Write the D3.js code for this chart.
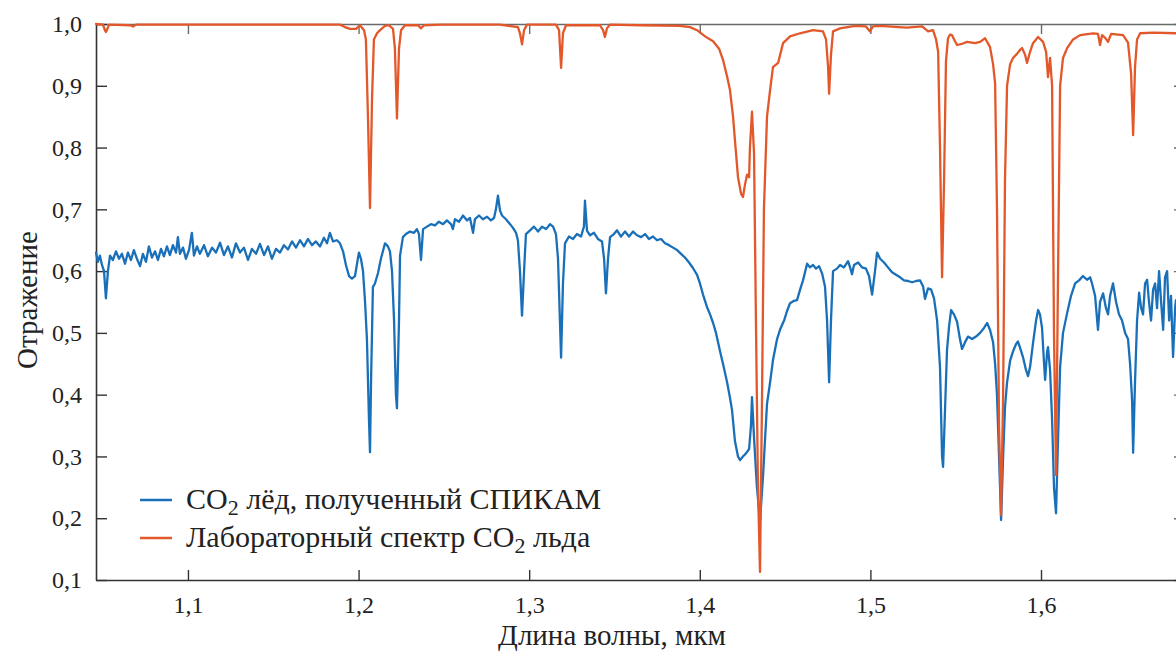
<!DOCTYPE html>
<html>
<head>
<meta charset="utf-8">
<script src="https://cdn.jsdelivr.net/npm/d3@7"></script>
<style>
  html, body { margin: 0; padding: 0; background: #fff; overflow: hidden; }
  svg { display: block; }
  svg text { font-family: 'Liberation Serif', serif !important; fill: #222; }
</style>
</head>
<body>
<svg id="chart" width="1176" height="651"></svg>
<script>
// spectrum observed by SPICAM (blue)
const spicamWl = [
  1.0461, 1.0472, 1.0484, 1.0496, 1.0508, 1.0519, 1.0531, 1.0543, 1.0560, 1.0578,
  1.0596, 1.0613, 1.0631, 1.0648, 1.0666, 1.0683, 1.0701, 1.0719, 1.0736, 1.0754,
  1.0771, 1.0789, 1.0807, 1.0824, 1.0842, 1.0859, 1.0877, 1.0894, 1.0912, 1.0930,
  1.0941, 1.0953, 1.0971, 1.0988, 1.1006, 1.1023, 1.1035, 1.1053, 1.1070, 1.1094,
  1.1117, 1.1141, 1.1164, 1.1188, 1.1211, 1.1234, 1.1258, 1.1281, 1.1305, 1.1328,
  1.1352, 1.1375, 1.1399, 1.1422, 1.1446, 1.1469, 1.1492, 1.1516, 1.1539, 1.1563,
  1.1586, 1.1610, 1.1633, 1.1657, 1.1680, 1.1703, 1.1727, 1.1750, 1.1774, 1.1797,
  1.1815, 1.1832, 1.1850, 1.1873, 1.1891, 1.1909, 1.1926, 1.1944, 1.1961, 1.1979,
  1.1991, 1.2002, 1.2014, 1.2026, 1.2038, 1.2049, 1.2061, 1.2067, 1.2073, 1.2084,
  1.2096, 1.2114, 1.2131, 1.2155, 1.2172, 1.2184, 1.2196, 1.2208, 1.2219, 1.2225,
  1.2237, 1.2243, 1.2260, 1.2278, 1.2301, 1.2325, 1.2342, 1.2354, 1.2366, 1.2378,
  1.2401, 1.2424, 1.2448, 1.2471, 1.2495, 1.2518, 1.2542, 1.2553, 1.2565, 1.2589,
  1.2612, 1.2636, 1.2653, 1.2671, 1.2682, 1.2706, 1.2729, 1.2753, 1.2776, 1.2794,
  1.2805, 1.2817, 1.2829, 1.2841, 1.2864, 1.2888, 1.2905, 1.2923, 1.2934, 1.2946,
  1.2958, 1.2970, 1.2981, 1.3005, 1.3028, 1.3052, 1.3075, 1.3099, 1.3122, 1.3140,
  1.3157, 1.3169, 1.3187, 1.3198, 1.3210, 1.3233, 1.3257, 1.3280, 1.3304, 1.3321,
  1.3327, 1.3339, 1.3357, 1.3380, 1.3403, 1.3427, 1.3439, 1.3450, 1.3462, 1.3474,
  1.3497, 1.3515, 1.3538, 1.3562, 1.3585, 1.3609, 1.3632, 1.3656, 1.3679, 1.3702,
  1.3726, 1.3749, 1.3773, 1.3796, 1.3820, 1.3843, 1.3867, 1.3890, 1.3913, 1.3937,
  1.3960, 1.3984, 1.4001, 1.4019, 1.4042, 1.4060, 1.4078, 1.4095, 1.4119, 1.4136,
  1.4160, 1.4177, 1.4189, 1.4206, 1.4224, 1.4236, 1.4253, 1.4271, 1.4289, 1.4300,
  1.4306, 1.4318, 1.4335, 1.4353, 1.4371, 1.4394, 1.4412, 1.4429, 1.4453, 1.4470,
  1.4494, 1.4511, 1.4529, 1.4552, 1.4570, 1.4588, 1.4605, 1.4629, 1.4646, 1.4664,
  1.4681, 1.4699, 1.4717, 1.4734, 1.4746, 1.4758, 1.4769, 1.4781, 1.4804, 1.4822,
  1.4845, 1.4869, 1.4881, 1.4892, 1.4904, 1.4928, 1.4951, 1.4974, 1.4992, 1.5010,
  1.5027, 1.5039, 1.5057, 1.5080, 1.5103, 1.5127, 1.5150, 1.5174, 1.5197, 1.5221,
  1.5244, 1.5268, 1.5291, 1.5309, 1.5320, 1.5338, 1.5356, 1.5373, 1.5391, 1.5408,
  1.5420, 1.5426, 1.5438, 1.5449, 1.5461, 1.5473, 1.5490, 1.5508, 1.5525, 1.5537,
  1.5555, 1.5572, 1.5596, 1.5619, 1.5643, 1.5666, 1.5684, 1.5701, 1.5719, 1.5731,
  1.5742, 1.5754, 1.5766, 1.5778, 1.5789, 1.5801, 1.5819, 1.5836, 1.5854, 1.5865,
  1.5877, 1.5895, 1.5912, 1.5924, 1.5936, 1.5953, 1.5971, 1.5983, 1.5994, 1.6006,
  1.6018, 1.6024, 1.6036, 1.6041, 1.6053, 1.6065, 1.6076, 1.6088, 1.6100, 1.6112,
  1.6129, 1.6153, 1.6176, 1.6200, 1.6223, 1.6246, 1.6270, 1.6288, 1.6299, 1.6317,
  1.6334, 1.6346, 1.6364, 1.6381, 1.6393, 1.6405, 1.6422, 1.6440, 1.6457, 1.6475,
  1.6493, 1.6510, 1.6522, 1.6534, 1.6540, 1.6551, 1.6563, 1.6575, 1.6587, 1.6598,
  1.6610, 1.6622, 1.6633, 1.6645, 1.6657, 1.6669, 1.6680, 1.6692, 1.6704, 1.6716,
  1.6727, 1.6739, 1.6751, 1.6762, 1.6774, 1.6786, 1.6791
];
const spicamRefl = [
  0.630, 0.615, 0.625, 0.610, 0.600, 0.556, 0.600, 0.625, 0.618, 0.632,
  0.620, 0.628, 0.612, 0.630, 0.618, 0.634, 0.620, 0.608, 0.628, 0.615,
  0.640, 0.622, 0.632, 0.618, 0.636, 0.624, 0.640, 0.626, 0.642, 0.630,
  0.655, 0.628, 0.638, 0.620, 0.634, 0.662, 0.625, 0.640, 0.628, 0.642,
  0.624, 0.638, 0.630, 0.646, 0.626, 0.640, 0.622, 0.645, 0.630, 0.638,
  0.618, 0.636, 0.628, 0.644, 0.626, 0.640, 0.620, 0.636, 0.630, 0.642,
  0.635, 0.648, 0.638, 0.650, 0.640, 0.652, 0.642, 0.648, 0.640, 0.654,
  0.645, 0.662, 0.648, 0.650, 0.645, 0.632, 0.610, 0.592, 0.588, 0.592,
  0.612, 0.630, 0.620, 0.600, 0.550, 0.490, 0.360, 0.307, 0.420, 0.574,
  0.580, 0.597, 0.620, 0.645, 0.640, 0.632, 0.600, 0.520, 0.400, 0.378,
  0.520, 0.625, 0.655, 0.660, 0.664, 0.662, 0.668, 0.660, 0.618, 0.668,
  0.672, 0.676, 0.674, 0.680, 0.676, 0.682, 0.676, 0.668, 0.684, 0.680,
  0.690, 0.682, 0.686, 0.662, 0.684, 0.690, 0.684, 0.688, 0.682, 0.686,
  0.700, 0.722, 0.698, 0.690, 0.684, 0.676, 0.670, 0.662, 0.650, 0.600,
  0.528, 0.600, 0.660, 0.666, 0.672, 0.664, 0.672, 0.668, 0.676, 0.672,
  0.660, 0.620, 0.460, 0.580, 0.645, 0.656, 0.652, 0.660, 0.656, 0.672,
  0.714, 0.665, 0.658, 0.662, 0.652, 0.648, 0.620, 0.564, 0.620, 0.655,
  0.660, 0.666, 0.656, 0.664, 0.656, 0.664, 0.658, 0.655, 0.660, 0.652,
  0.656, 0.650, 0.652, 0.645, 0.642, 0.638, 0.634, 0.628, 0.622, 0.614,
  0.605, 0.594, 0.580, 0.562, 0.542, 0.530, 0.516, 0.500, 0.470, 0.450,
  0.420, 0.395, 0.375, 0.325, 0.300, 0.294, 0.300, 0.305, 0.312, 0.350,
  0.396, 0.330, 0.250, 0.195, 0.270, 0.385, 0.420, 0.456, 0.490, 0.505,
  0.520, 0.535, 0.548, 0.552, 0.553, 0.570, 0.585, 0.612, 0.606, 0.610,
  0.604, 0.608, 0.596, 0.575, 0.520, 0.420, 0.520, 0.600, 0.604, 0.610,
  0.606, 0.616, 0.606, 0.595, 0.610, 0.614, 0.606, 0.604, 0.592, 0.562,
  0.600, 0.630, 0.620, 0.614, 0.606, 0.598, 0.594, 0.590, 0.585, 0.584,
  0.582, 0.584, 0.585, 0.575, 0.555, 0.572, 0.570, 0.556, 0.520, 0.445,
  0.300, 0.283, 0.380, 0.472, 0.510, 0.537, 0.530, 0.518, 0.490, 0.474,
  0.485, 0.494, 0.490, 0.494, 0.500, 0.508, 0.516, 0.505, 0.485, 0.450,
  0.400, 0.300, 0.197, 0.300, 0.380, 0.420, 0.455, 0.470, 0.482, 0.486,
  0.476, 0.460, 0.440, 0.430, 0.445, 0.483, 0.520, 0.537, 0.530, 0.508,
  0.450, 0.424, 0.470, 0.477, 0.440, 0.360, 0.250, 0.208, 0.330, 0.445,
  0.500, 0.532, 0.560, 0.580, 0.585, 0.592, 0.586, 0.590, 0.580, 0.560,
  0.505, 0.550, 0.564, 0.540, 0.530, 0.560, 0.580, 0.550, 0.530, 0.520,
  0.500, 0.490, 0.450, 0.390, 0.306, 0.420, 0.520, 0.565, 0.540, 0.530,
  0.580, 0.586, 0.550, 0.520, 0.570, 0.580, 0.540, 0.600, 0.550, 0.505,
  0.590, 0.600, 0.520, 0.560, 0.461, 0.540, 0.553
];

// laboratory CO2 ice spectrum (red)
const labWl = [
  1.0461, 1.0502, 1.0513, 1.0519, 1.0525, 1.0537, 1.0660, 1.0678, 1.0695, 1.1070,
  1.1657, 1.1891, 1.1920, 1.1950, 1.1985, 1.2008, 1.2032, 1.2043, 1.2055, 1.2067,
  1.2079, 1.2090, 1.2108, 1.2126, 1.2155, 1.2178, 1.2202, 1.2213, 1.2225, 1.2237,
  1.2249, 1.2272, 1.2348, 1.2366, 1.2383, 1.2477, 1.2829, 1.2934, 1.2946, 1.2958,
  1.2970, 1.2987, 1.3157, 1.3175, 1.3187, 1.3198, 1.3216, 1.3415, 1.3433, 1.3444,
  1.3456, 1.3474, 1.3650, 1.3884, 1.3943, 1.3984, 1.4031, 1.4078, 1.4113, 1.4136,
  1.4160, 1.4177, 1.4195, 1.4206, 1.4224, 1.4242, 1.4253, 1.4265, 1.4277, 1.4289,
  1.4294, 1.4306, 1.4318, 1.4330, 1.4341, 1.4353, 1.4365, 1.4376, 1.4394, 1.4412,
  1.4429, 1.4459, 1.4488, 1.4529, 1.4588, 1.4664, 1.4722, 1.4740, 1.4752, 1.4758,
  1.4769, 1.4781, 1.4822, 1.4910, 1.4974, 1.4998, 1.5015, 1.5057, 1.5215, 1.5303,
  1.5338, 1.5367, 1.5385, 1.5397, 1.5408, 1.5420, 1.5432, 1.5443, 1.5455, 1.5467,
  1.5478, 1.5496, 1.5508, 1.5537, 1.5567, 1.5613, 1.5643, 1.5672, 1.5701, 1.5719,
  1.5731, 1.5742, 1.5754, 1.5766, 1.5778, 1.5789, 1.5801, 1.5819, 1.5836, 1.5860,
  1.5877, 1.5889, 1.5907, 1.5918, 1.5936, 1.5953, 1.5983, 1.6012, 1.6030, 1.6041,
  1.6053, 1.6065, 1.6076, 1.6088, 1.6100, 1.6112, 1.6129, 1.6153, 1.6188, 1.6229,
  1.6305, 1.6334, 1.6346, 1.6358, 1.6375, 1.6393, 1.6411, 1.6481, 1.6510, 1.6528,
  1.6540, 1.6551, 1.6563, 1.6581, 1.6657, 1.6791
];
const labRefl = [
  1.000, 0.999, 0.990, 0.987, 0.990, 0.999, 0.998, 0.996, 0.999, 0.999,
  0.999, 0.999, 0.995, 0.992, 0.992, 0.998, 0.990, 0.975, 0.850, 0.702,
  0.880, 0.975, 0.985, 0.990, 0.997, 0.998, 0.992, 0.960, 0.847, 0.960,
  0.990, 0.998, 0.998, 0.993, 0.998, 0.999, 0.999, 0.995, 0.985, 0.967,
  0.990, 0.999, 0.999, 0.990, 0.929, 0.985, 0.998, 0.998, 0.990, 0.979,
  0.993, 0.999, 0.998, 0.997, 0.995, 0.990, 0.980, 0.972, 0.960, 0.942,
  0.915, 0.893, 0.850, 0.812, 0.752, 0.725, 0.720, 0.740, 0.756, 0.752,
  0.800, 0.858, 0.790, 0.500, 0.250, 0.113, 0.400, 0.700, 0.850, 0.893,
  0.930, 0.937, 0.969, 0.980, 0.985, 0.990, 0.988, 0.975, 0.930, 0.887,
  0.950, 0.988, 0.993, 0.997, 0.996, 0.988, 0.996, 0.997, 0.994, 0.996,
  0.988, 0.990, 0.975, 0.955, 0.800, 0.590, 0.750, 0.940, 0.977, 0.983,
  0.982, 0.972, 0.966, 0.968, 0.971, 0.969, 0.971, 0.977, 0.963, 0.935,
  0.904, 0.700, 0.350, 0.205, 0.400, 0.750, 0.900, 0.935, 0.945, 0.952,
  0.958, 0.961, 0.950, 0.937, 0.955, 0.969, 0.979, 0.971, 0.955, 0.914,
  0.945, 0.900, 0.500, 0.270, 0.600, 0.900, 0.945, 0.961, 0.975, 0.982,
  0.985, 0.984, 0.966, 0.982, 0.978, 0.971, 0.984, 0.982, 0.970, 0.920,
  0.820, 0.930, 0.975, 0.985, 0.986, 0.985
];

const xTicks = [1.1, 1.2, 1.3, 1.4, 1.5, 1.6];
const yTicks = [0.1, 0.2, 0.3, 0.4, 0.5, 0.6, 0.7, 0.8, 0.9, 1.0];
const legendLabels = [
  { pre: 'CO', sub: '2', post: ' лёд, полученный СПИКАМ' },
  { pre: 'Лабораторный спектр CO', sub: '2', post: ' льда' }
];
const seriesColors = ['#1a70b8', '#e2582a'];
const serif = '"Liberation Serif", serif';

const svg = d3.select('#chart'),
  margin = { left: 96, top: 24, right: 1185, bottom: 580 };

const x = d3.scaleLinear()
  .domain([1.0461, 1.6844])
  .range([margin.left, margin.right]);

const y = d3.scaleLinear()
  .domain([0.1, 1.0])
  .range([margin.bottom, margin.top]);

const fmt = d => d3.format('.1f')(d).replace('.', ',');
const setSerif = sel => sel.style('font-family', serif, 'important');

const styleAxis = (g, color) => {
  g.attr('font-family', null);
  g.select('.domain').attr('stroke', color).attr('stroke-width', 1.6);
  g.selectAll('.tick line').attr('stroke', color).attr('stroke-width', 1.4);
  g.selectAll('.tick text')
    .attr('fill', '#222')
    .style('font-size', '24px')
    .call(setSerif);
};

// frame: top and right, ticks only
svg.append('g')
  .attr('transform', 'translate(0,' + margin.top + ')')
  .call(d3.axisTop(x).tickValues(xTicks).tickSize(-10).tickSizeOuter(0).tickFormat(''))
  .call(g => styleAxis(g, '#6a6a6a'));

svg.append('g')
  .attr('transform', 'translate(' + margin.right + ',0)')
  .call(d3.axisRight(y).tickValues(yTicks).tickSize(-11).tickSizeOuter(0).tickFormat(''))
  .call(g => styleAxis(g, '#6a6a6a'));

svg.append('g')
  .attr('transform', 'translate(0,' + margin.bottom + ')')
  .call(d3.axisBottom(x).tickValues(xTicks).tickSize(-10).tickSizeOuter(0).tickPadding(16).tickFormat(fmt))
  .call(g => styleAxis(g, '#333'));

svg.append('g')
  .attr('transform', 'translate(' + margin.left + ',0)')
  .call(d3.axisLeft(y).tickValues(yTicks).tickSize(-11).tickSizeOuter(0).tickPadding(14).tickFormat(fmt))
  .call(g => styleAxis(g, '#333'));

const line = d3.line()
  .x(d => x(d[0]))
  .y(d => y(d[1]));

const spicam = spicamWl.map((w, i) => [w, spicamRefl[i]]);
const lab = labWl.map((w, i) => [w, labRefl[i]]);

[spicam, lab].forEach((data, i) => {
  svg.append('path')
    .datum(data)
    .attr('fill', 'none')
    .attr('stroke', seriesColors[i])
    .attr('stroke-width', 2.3)
    .attr('stroke-linejoin', 'round')
    .attr('stroke-linecap', 'round')
    .attr('d', line);
});

// legend
const legend = svg.append('g');
legendLabels.forEach((lbl, i) => {
  const ly = 500 + i * 38;
  legend.append('line')
    .attr('x1', 140).attr('x2', 172)
    .attr('y1', ly).attr('y2', ly)
    .attr('stroke', seriesColors[i])
    .attr('stroke-width', 2.5);
  const t = legend.append('text')
    .attr('x', 186).attr('y', ly + 9)
    .attr('fill', '#222')
    .style('font-size', '30px')
    .call(setSerif);
  t.append('tspan').text(lbl.pre);
  t.append('tspan').attr('dy', 6).style('font-size', '22px').text(lbl.sub);
  t.append('tspan').attr('dy', -6).text(lbl.post);
});

svg.append('text')
  .attr('x', 612).attr('y', 645)
  .attr('text-anchor', 'middle')
  .attr('fill', '#222')
  .style('font-size', '29px')
  .call(setSerif)
  .text('Длина волны, мкм');

svg.append('text')
  .attr('transform', 'translate(37,300) rotate(-90)')
  .attr('text-anchor', 'middle')
  .attr('fill', '#222')
  .style('font-size', '29px')
  .call(setSerif)
  .text('Отражение');
</script>
</body>
</html>
